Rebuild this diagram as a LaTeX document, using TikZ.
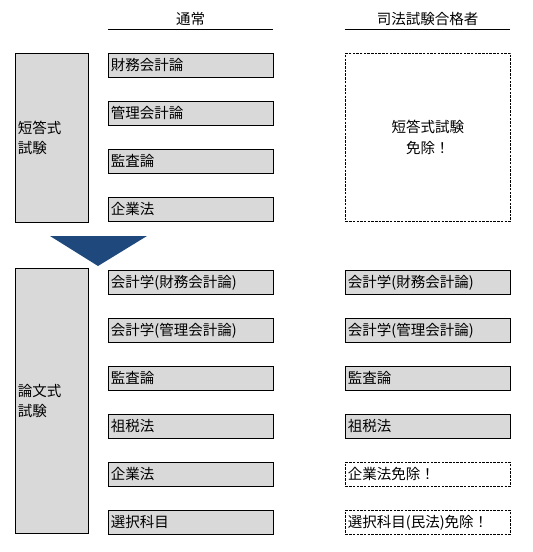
\documentclass[tikz,border=0pt]{standalone}
\usepackage{fontspec}
\setmainfont{Noto Sans CJK JP}
\usepackage{tikz}
\definecolor{boxgray}{RGB}{217, 217, 217}
\definecolor{stepblue}{RGB}{31, 73, 125}

\begin{document}
\begin{tikzpicture}[x=1pt, y=-1pt, font=\fontsize{14.5}{20.5}\selectfont,
  subj/.style={draw, line width=0.8pt, fill=boxgray, anchor=north west,
    minimum height=24pt, inner xsep=2.5pt, inner ysep=0pt,
    text width=160pt, align=left},
  freed/.style={subj, fill=none, dash pattern=on 2.5pt off 1.2pt},
  exam/.style={draw, line width=0.8pt, fill=boxgray, anchor=north west,
    minimum width=73pt, inner xsep=2.5pt, text width=68pt, align=left},
  head/.style={anchor=south, minimum width=165pt, inner sep=0pt, text depth=4pt}]
  \useasboundingbox (0,0) rectangle (533,552);
  \node[head] (hnormal) at (190.5,29) {通常};
  \draw[line width=0.8pt] (hnormal.south west) -- (hnormal.south east);
  \node[head] (hlawyer) at (427.5,29) {司法試験合格者};
  \draw[line width=0.8pt] (hlawyer.south west) -- (hlawyer.south east);
  \node[exam, minimum height=169pt] (short) at (15,53) {短答式\\試験};
  \node[subj] (s1) at (108,53) {財務会計論};
  \node[subj] (s2) at (108,101) {管理会計論};
  \node[subj] (s3) at (108,149) {監査論};
  \node[subj] (s4) at (108,197) {企業法};
  \node[freed, minimum height=168pt, text width=160pt, align=center] (sfree) at (345,53)
    {短答式試験\\免除！};
  \fill[stepblue] (50,236) -- (147,236) -- (98,266) -- cycle;
  \node[exam, minimum height=265pt] (essay) at (15,268) {論文式\\試験};
  \node[subj] (e1) at (108,270) {会計学(財務会計論)};
  \node[subj] (e2) at (108,318) {会計学(管理会計論)};
  \node[subj] (e3) at (108,366) {監査論};
  \node[subj] (e4) at (108,414) {祖税法};
  \node[subj] (e5) at (108,462) {企業法};
  \node[subj] (e6) at (108,510) {選択科目};
  \node[subj] (l1) at (345,270) {会計学(財務会計論)};
  \node[subj] (l2) at (345,318) {会計学(管理会計論)};
  \node[subj] (l3) at (345,366) {監査論};
  \node[subj] (l4) at (345,414) {祖税法};
  \node[freed] (l5) at (345,462) {企業法免除！};
  \node[freed] (l6) at (345,510) {選択科目(民法)免除！};
\end{tikzpicture}
\end{document}
